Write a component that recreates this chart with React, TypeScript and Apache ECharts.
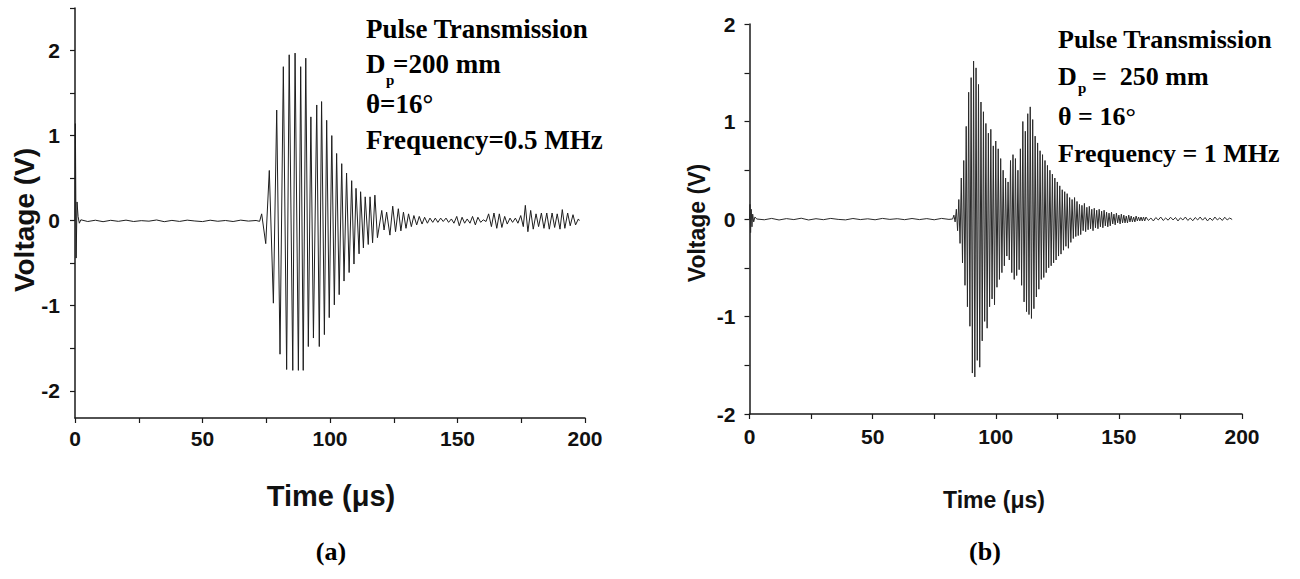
import React, { useEffect, useRef } from "react";
import * as echarts from "echarts";

// ---------- Panel (a): Pulse transmission, Dp = 200 mm, 0.5 MHz ----------
const aTime = [
  0, 0.15, 0.45, 0.8, 1.2, 1.7, 2.3, 5, 8, 11, 14, 17, 20, 23, 26, 29, 32, 35, 38, 41, 44, 47, 50, 53, 56, 59, 62, 65, 68, 71, 72.4,
  73.2, 74.8, 76.2, 77.8, 79.1, 80.4, 81.7, 83.0, 84.0, 85.4, 86.3, 87.6, 88.5, 89.5, 90.5, 91.5, 92.5, 93.5, 94.8, 95.8,
  96.7, 97.8, 98.7, 99.7, 100.7, 101.7, 102.6, 103.6, 104.6, 105.5, 106.5, 107.5, 108.5, 109.4, 110.2, 111.4, 112.0, 113.1,
  113.8, 115.0, 115.7, 116.7, 117.6, 118.6,
  120.3, 121.2, 122.2, 123.5, 124.6, 125.7, 126.8, 127.8, 128.8, 129.8, 130.8, 131.9, 132.9, 134.0, 135.0, 136.1, 137.1,
  138.2, 139.2, 140.3, 141.3, 142.3, 143.4, 144.4, 145.5, 146.5, 147.6, 148.6, 149.7, 150.7, 151.8, 152.8, 153.8, 154.9,
  155.9, 157.0, 158.0, 159.1, 160.1, 161.2, 162.2, 163.3, 164.3, 165.4, 166.4, 167.4, 168.5, 169.5, 170.6, 171.6, 172.7,
  173.7, 174.8, 175.8, 176.6, 177.6, 178.7, 179.7, 180.8, 181.8, 182.9, 183.9, 185.0, 186.0, 187.1, 188.1, 189.1, 190.2,
  191.1, 192.1, 193.2, 194.2, 195.3, 196.3, 197.4, 197.8,
];
const aVolt = [
  0, 1.14, -0.44, 0.22, 0.05, -0.03, 0.01, -0.01, 0.005, -0.012, 0.004, -0.008, 0.006, -0.01, 0.0, -0.006, 0.008, -0.012, 0.003, -0.009, 0.006, -0.004, -0.011, 0.005, -0.007, 0.002, -0.01, 0.006, -0.005, 0.002, -0.008,
  0.08, -0.27, 0.59, -0.97, 1.3, -1.57, 1.81, -1.75, 1.95, -1.76, 1.97, -1.76, 1.81, -1.76, 1.91, -1.48, 1.22, -1.38, 1.36, -1.48,
  1.4, -1.34, 1.18, -1.14, 1.0, -0.99, 0.79, -0.87, 0.67, -0.71, 0.56, -0.61, 0.47, -0.51, 0.38, -0.39, 0.34, -0.32,
  0.28, -0.28, 0.28, -0.26, 0.3, -0.2,
  0.12, -0.11, 0.1, -0.17, 0.17, -0.13, 0.14, -0.12, 0.1, -0.09, 0.08, -0.07, 0.06, -0.05, 0.05, -0.04, 0.04,
  -0.03, 0.03, -0.02, 0.03, -0.02, 0.03, -0.01, 0.03, -0.02, 0.02, -0.03, 0.05, -0.06, 0.04, -0.03, 0.02, -0.03,
  0.05, -0.05, 0.04, -0.02, 0.01, -0.01, 0.08, -0.07, 0.09, -0.09, 0.08, -0.08, 0.05, -0.04, 0.03, -0.02, 0.03,
  -0.03, 0.06, -0.07, 0.18, -0.13, 0.12, -0.1, 0.08, -0.07, 0.09, -0.09, 0.09, -0.1, 0.09, -0.08, 0.08, -0.1,
  0.13, -0.09, 0.09, -0.06, 0.07, -0.05, 0.02, 0.0,
];

// ---------- Panel (b): Pulse transmission, Dp = 250 mm, 1 MHz ----------
const bLeadTime = [
  0, 0.2, 0.45, 0.7, 1.0, 1.3, 1.7, 2.2, 3, 6, 9, 12, 15, 18, 21, 24, 27, 30, 33, 36, 39, 42, 45, 48, 51, 54, 57, 60, 63, 66, 69, 72, 75, 78, 81, 82.5,
];
const bLeadVolt = [
  0, 0.15, -0.14, 0.1, -0.08, 0.05, -0.03, 0.02, 0.0, -0.008, 0.006, -0.01, 0.004, -0.006, 0.008, -0.01, 0.003, -0.007, 0.006, -0.004, -0.009, 0.005, -0.006, 0.002, -0.008, 0.006, -0.004, 0.003, -0.007, 0.005, -0.006, 0.004, -0.008, 0.006, -0.004, 0.0,
];
// burst: one peak then one trough per microsecond, starting at 83 us
const bBurstStart = 83;
const bBurstStep = 0.5;
const bBurstVolt = [
  0.04, -0.03, 0.1, -0.12, 0.2, -0.25, 0.42, -0.45, 0.6, -0.68, 0.95, -0.9, 1.3, -1.1, 1.45, -1.58, 1.62, -1.62,
  1.55, -1.45, 1.38, -1.52, 1.2, -1.25, 1.1, -1.05, 0.98, -1.12, 0.88, -0.9, 0.92, -0.82, 0.75, -0.88, 0.8, -0.7,
  0.72, -0.62, 0.62, -0.55, 0.5, -0.48, 0.42, -0.38, 0.38, -0.42, 0.6, -0.55, 0.66, -0.62, 0.62, -0.58, 0.5, -0.52,
  0.72, -0.68, 1.0, -0.85, 0.9, -0.95, 1.08, -0.98, 1.15, -1.02, 1.02, -0.92, 0.85, -0.8, 0.78, -0.72, 0.7, -0.62,
  0.66, -0.6, 0.6, -0.55, 0.55, -0.5, 0.5, -0.48, 0.46, -0.45, 0.42, -0.42, 0.38, -0.38, 0.34, -0.36, 0.3, -0.32,
  0.28, -0.28, 0.26, -0.3, 0.22, -0.24, 0.2, -0.2, 0.22, -0.18, 0.18, -0.17, 0.15, -0.16, 0.14, -0.12, 0.16, -0.13,
  0.12, -0.11, 0.13, -0.1, 0.1, -0.12, 0.11, -0.09, 0.09, -0.1, 0.1, -0.08, 0.08, -0.09, 0.09, -0.07, 0.07, -0.08,
  0.06, -0.07, 0.07, -0.05, 0.05, -0.06, 0.06, -0.04, 0.04, -0.05, 0.05, -0.04, 0.04, -0.04, 0.03, -0.04, 0.04, -0.03,
  0.03, -0.03, 0.02, -0.03, 0.03, -0.02, 0.02, -0.02, 0.02, -0.02, 0.02, -0.02,
];
const bTailStart = 161;
const bTailStep = 1;
const bTailVolt = [
  0.02, -0.015, 0.01, -0.02, 0.015, -0.01, 0.02, -0.015, 0.01, -0.012, 0.018, -0.01, 0.015, -0.02, 0.012, -0.01, 0.02, -0.015,
  0.01, -0.018, 0.015, -0.01, 0.02, -0.012, 0.015, -0.02, 0.01, -0.015, 0.02, -0.01, 0.012, -0.015, 0.018, -0.01, 0.01, -0.005,
];

// ---------- axes ----------
const xTickValues = [0, 25, 50, 75, 100, 125, 150, 175, 200];
const xLabelValues = [0, 50, 100, 150, 200];
const aYTickValues = [-2, -1.5, -1, -0.5, 0, 0.5, 1, 1.5, 2, 2.5];
const aYLabelValues = [-2, -1, 0, 1, 2];
const bYTickValues = [-2, -1.5, -1, -0.5, 0, 0.5, 1, 1.5, 2];
const bYLabelValues = [-2, -1, 0, 1, 2];

const SANS = "'Liberation Sans', Arial, sans-serif";
const SERIF = "'Liberation Serif', 'Times New Roman', serif";

function buildA() {
  return aTime.map((t, i) => [t, aVolt[i]]);
}
function buildB() {
  const out: number[][] = bLeadTime.map((t, i) => [t, bLeadVolt[i]]);
  bBurstVolt.forEach((v, i) => out.push([bBurstStart + i * bBurstStep, v]));
  bTailVolt.forEach((v, i) => out.push([bTailStart + i * bTailStep, v]));
  return out;
}

function axisCommon() {
  return {
    axisLine: { show: true, onZero: false, lineStyle: { color: "#1a1a1a", width: 1.5 } },
    splitLine: { show: false },
    axisTick: { show: true, inside: false, length: 5, lineStyle: { color: "#1a1a1a", width: 1.2 } },
  };
}

function text(x: number, y: number, s: string, size: number, extra: any = {}) {
  return {
    type: "text",
    x,
    y,
    style: {
      text: s,
      fontFamily: SERIF,
      fontWeight: "bold",
      fontSize: size,
      fill: "#000",
      verticalAlign: "middle",
      align: "left",
      ...extra,
    },
  };
}

export default function App() {
  const ref = useRef<HTMLDivElement>(null);
  useEffect(() => {
    if (!ref.current) return;
    const chart = echarts.init(ref.current, undefined, { renderer: "svg" });
    const c = axisCommon();
    const labelStyle = { fontFamily: SANS, fontWeight: "bold", fontSize: 21, color: "#111" };
    chart.setOption({
      animation: false,
      backgroundColor: "#fff",
      grid: [
        { left: 75, top: 8, width: 510, height: 410 },
        { left: 749.5, top: 24, width: 492.5, height: 390 },
      ],
      xAxis: [
        {
          type: "value", gridIndex: 0, min: 0, max: 200, ...c,
          axisTick: { ...c.axisTick, customValues: xTickValues },
          axisLabel: { ...labelStyle, margin: 10, customValues: xLabelValues },
        },
        {
          type: "value", gridIndex: 1, min: 0, max: 200, ...c,
          axisTick: { ...c.axisTick, customValues: xTickValues },
          axisLabel: { ...labelStyle, margin: 12, customValues: xLabelValues },
        },
      ],
      yAxis: [
        {
          type: "value", gridIndex: 0, min: -2.32, max: 2.5, ...c,
          axisTick: { ...c.axisTick, customValues: aYTickValues },
          axisLabel: { ...labelStyle, margin: 15, customValues: aYLabelValues },
        },
        {
          type: "value", gridIndex: 1, min: -2, max: 2, ...c,
          axisTick: { ...c.axisTick, customValues: bYTickValues },
          axisLabel: { ...labelStyle, margin: 14, customValues: bYLabelValues },
        },
      ],
      series: [
        {
          type: "line", xAxisIndex: 0, yAxisIndex: 0, data: buildA(), showSymbol: false, symbol: "none",
          lineStyle: { color: "#1e1e1e", width: 1 }, clip: true,
        },
        {
          type: "line", xAxisIndex: 1, yAxisIndex: 1, data: buildB(), showSymbol: false, symbol: "none",
          lineStyle: { color: "#2a2a2a", width: 1 }, clip: true,
        },
      ],
      graphic: [
        // axis titles (a)
        { type: "text", x: 24, y: 220, rotation: Math.PI / 2, style: { text: "Voltage (V)", fontFamily: SANS, fontWeight: "bold", fontSize: 28, fill: "#111", align: "center", verticalAlign: "middle" } },
        { type: "text", x: 331, y: 496, style: { text: "Time (μs)", fontFamily: SANS, fontWeight: "bold", fontSize: 29, fill: "#111", align: "center", verticalAlign: "middle" } },
        // axis titles (b)
        { type: "text", x: 697, y: 223, rotation: Math.PI / 2, style: { text: "Voltage (V)", fontFamily: SANS, fontWeight: "bold", fontSize: 23, fill: "#111", align: "center", verticalAlign: "middle" } },
        { type: "text", x: 994, y: 500, style: { text: "Time (μs)", fontFamily: SANS, fontWeight: "bold", fontSize: 23, fill: "#111", align: "center", verticalAlign: "middle" } },
        // captions
        text(331, 551, "(a)", 26, { align: "center" }),
        text(985, 551, "(b)", 26, { align: "center" }),
        // annotation (a)
        text(366, 29, "Pulse Transmission", 27),
        text(366, 64, "D", 27),
        text(386, 80, "p", 15),
        text(393, 64, "=200 mm", 27),
        text(366, 104, "θ=16°", 27),
        text(366, 140, "Frequency=0.5 MHz", 27),
        // annotation (b)
        text(1058, 39, "Pulse Transmission", 26),
        text(1058, 76, "D", 26),
        text(1078, 88, "p", 15),
        text(1092, 76, "=  250 mm", 26),
        text(1058, 116, "θ = 16°", 26),
        text(1058, 153, "Frequency = 1 MHz", 26),
      ],
    });
    return () => chart.dispose();
  }, []);
  return (
    <div
      ref={ref}
      style={{ position: "fixed", left: 0, top: 0, width: "1300px", height: "579px", background: "#fff" }}
    />
  );
}
